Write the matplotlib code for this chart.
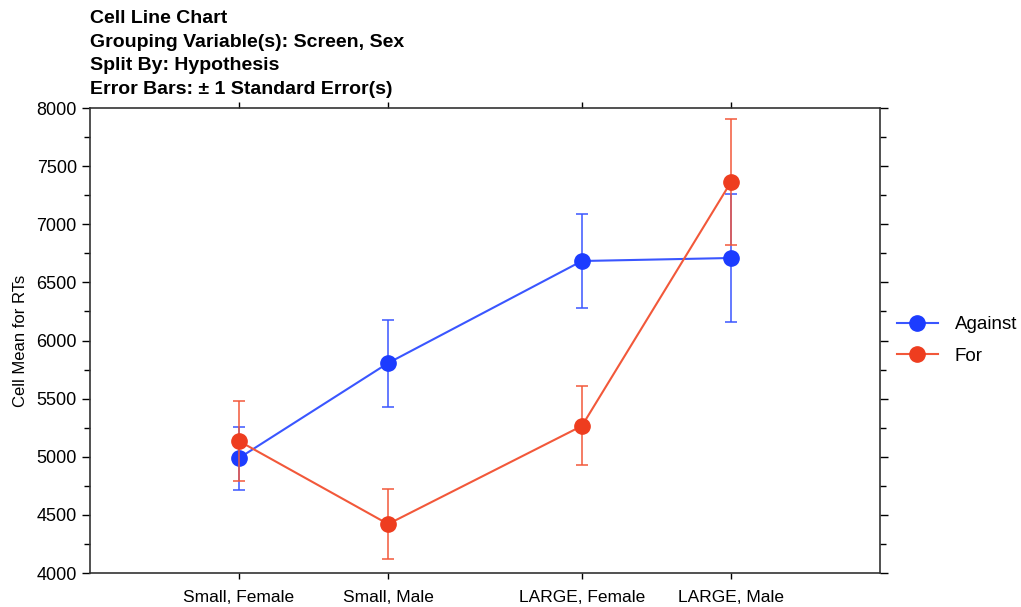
import numpy as np
import matplotlib
matplotlib.use("Agg")
import matplotlib.pyplot as plt
from matplotlib.ticker import MultipleLocator

plt.rcParams['font.family'] = ['Liberation Sans', 'DejaVu Sans']

categories = ["Small, Female", "Small, Male", "LARGE, Female", "LARGE, Male"]
against_mean = [4989, 5806, 6684, 6710]
against_se = [271, 374, 404, 553]
for_mean = [5135, 4421, 5265, 7363]
for_se = [344, 301, 340, 545]

title_lines = ["Cell Line Chart",
               "Grouping Variable(s): Screen, Sex",
               "Split By: Hypothesis",
               "Error Bars: \u00b1 1 Standard Error(s)"]

# screen groups are drawn with a gap between them
xpos = np.array([1.0, 2.0, 3.3, 4.3])

blue_line = "#3a56ff"
blue_mark = "#1c3cff"
red_line = "#f2583a"
red_mark = "#ee3d1f"

fig = plt.figure(figsize=(10.21, 6.07), dpi=100)
ax = fig.add_axes([0.0881, 0.056, 0.7738, 0.766])

ax.errorbar(xpos, against_mean, yerr=against_se, fmt="none", ecolor=blue_line,
            elinewidth=1.1, capsize=4, capthick=1.1, zorder=2)
ax.plot(xpos, against_mean, color=blue_line, lw=1.5, marker="o", ms=11,
        mfc=blue_mark, mec=blue_mark, label="Against", zorder=3)
ax.errorbar(xpos, for_mean, yerr=for_se, fmt="none", ecolor=red_line,
            elinewidth=1.1, capsize=4, capthick=1.1, zorder=4)
ax.plot(xpos, for_mean, color=red_line, lw=1.5, marker="o", ms=11,
        mfc=red_mark, mec=red_mark, label="For", zorder=5)

ax.set_xlim(0, 5.3)
ax.set_ylim(4000, 8000)
ax.set_xticks(xpos)
ax.set_xticklabels(categories, fontsize=12.5)
ax.yaxis.set_major_locator(MultipleLocator(500))
ax.yaxis.set_minor_locator(MultipleLocator(250))
ax.tick_params(axis="y", which="major", direction="out", length=6, width=1,
               labelsize=13, right=True)
ax.tick_params(axis="y", which="minor", direction="out", length=4, width=1,
               right=True)
ax.tick_params(axis="x", which="major", direction="out", length=4, width=1,
               top=True, pad=8)
for s in ax.spines.values():
    s.set_linewidth(1.2)
    s.set_color("#333333")
ax.set_ylabel("Cell Mean for RTs", fontsize=12, labelpad=6)

leg = ax.legend(loc="center left", bbox_to_anchor=(1.0, 0.5), frameon=False,
                fontsize=13.5, handlelength=2.2, handletextpad=0.9,
                labelspacing=0.75)

y0 = 0.969
for i, t in enumerate(title_lines):
    fig.text(0.0881, y0 - i * 0.0388, t, fontsize=14, fontweight="bold",
             ha="left", va="center")

fig.savefig("out.png", dpi=100)
